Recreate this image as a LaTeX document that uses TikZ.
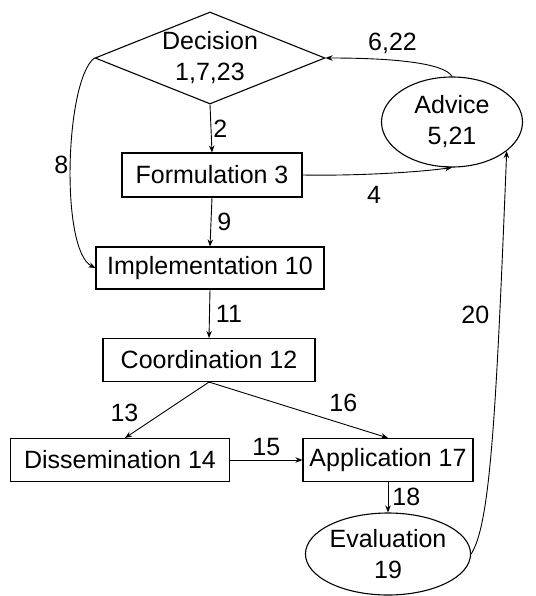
\documentclass[tikz,border=0pt]{standalone}
\usepackage{fontspec}
\setmainfont{Liberation Sans}
\usetikzlibrary{shapes.geometric,arrows.meta}
\begin{document}
\begin{tikzpicture}[x=1pt,y=-1pt,
  every node/.style={font=\fontsize{25}{31}\selectfont, inner sep=2pt},
  box/.style={draw, line width=1.1pt, rectangle, inner sep=0pt},
  oval/.style={draw, line width=1.1pt, ellipse, inner sep=0pt, align=center},
  arr/.style={line width=0.9pt, -{Stealth[length=7pt,width=5.5pt]}}
]
\useasboundingbox (0,0) rectangle (535,596);
% nodes
\node[draw, line width=1.1pt, diamond, aspect=2.5, inner sep=0pt, minimum width=230pt, minimum height=92pt, align=center] (dec) at (210,58) {Decision\\1,7,23};
\node[box, minimum width=180pt, minimum height=44pt] (form) at (212,175) {Formulation 3};
\node[oval, minimum width=141pt, minimum height=90pt] (adv) at (452,122) {Advice\\5,21};
\node[box, minimum width=228pt, minimum height=42pt] (impl) at (210,268) {Implementation 10};
\node[box, minimum width=212pt, minimum height=43pt] (coord) at (209,360) {Coordination 12};
\node[box, minimum width=219pt, minimum height=43pt] (diss) at (120,460) {Dissemination 14};
\node[box, minimum width=170pt, minimum height=43pt] (app) at (388,460) {Application 17};
\node[oval, minimum width=156pt, minimum height=82pt] (eval) at (388,554) {Evaluation\\19};
% connectors
\draw[arr] (dec.south) -- node[right]{2} (form.north);
\draw[arr] (form.south) -- node[right, inner sep=6pt]{9} (impl.north);
\draw[arr] (impl.south) -- node[right, inner sep=6pt]{11} (coord.north);
\draw[arr] (coord.south) -- node[pos=0.55, left=22pt]{13} (diss.north -| 125,0);
\draw[arr] (coord.south) -- node[pos=0.75, above=10pt]{16} (app.north);
\draw[arr] (diss.east) -- node[above=2pt]{15} (app.west);
\draw[arr] (app.south) -- node[right, inner sep=4pt]{18} (eval.north);
\draw[arr] (eval.east) .. controls (490,525) and (496,420) .. node[pos=0.765, left=8pt]{20} (adv.-28);
\draw[arr] (form.east) .. controls (360,176) and (420,172) .. node[pos=0.42, below=10pt]{4} (adv.south);
\draw[arr] (adv.north) .. controls (445,64) and (400,58) .. node[pos=0.65, above=4pt]{6,22} (dec.east);
\draw[arr] (dec.west) .. controls (65,80) and (60,250) .. node[pos=0.5, left=0pt]{8} (impl.west);
\end{tikzpicture}
\end{document}
